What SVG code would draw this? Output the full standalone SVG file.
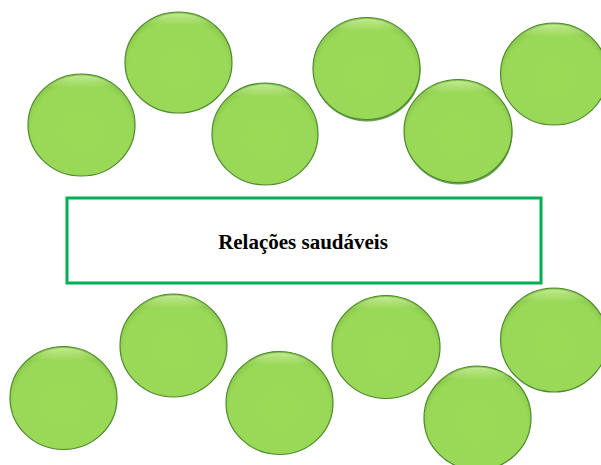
<svg xmlns="http://www.w3.org/2000/svg" width="601" height="465" viewBox="0 0 601 465">
<defs>
<radialGradient id="g" cx="50%" cy="55%" r="55%">
<stop offset="0" stop-color="#9bdb58"/>
<stop offset="0.85" stop-color="#9ad857"/>
<stop offset="1" stop-color="#86c44a"/>
</radialGradient>
<linearGradient id="hl" x1="0" y1="0" x2="0" y2="1">
<stop offset="0" stop-color="#c8ee9a" stop-opacity="0.9"/>
<stop offset="0.12" stop-color="#c8ee9a" stop-opacity="0"/>
</linearGradient>
</defs>
<style>
.c{fill:url(#g);stroke:#4e8a2c;stroke-width:1.2}
.h{fill:url(#hl);stroke:none}
.s{fill:#3f8a2a;opacity:0.8}
.box{fill:#fff;stroke:#00b050;stroke-width:3}
.t{font-family:"Liberation Serif","Times New Roman",serif;font-weight:bold;font-size:21px;fill:#000}
</style>
<rect width="601" height="465" fill="#fff"/>
<g id="c1"><ellipse class="c" cx="81.5" cy="125" rx="53.5" ry="51"/><ellipse class="h" cx="81.5" cy="125" rx="52" ry="49.5"/></g>
<g id="c2"><ellipse class="c" cx="178.5" cy="62.5" rx="53.5" ry="50.5"/><ellipse class="h" cx="178.5" cy="62.5" rx="52" ry="49"/></g>
<g id="c3"><ellipse class="c" cx="265" cy="134" rx="53" ry="51"/><ellipse class="h" cx="265" cy="134" rx="51.5" ry="49.5"/></g>
<g id="c4"><ellipse class="s" cx="367" cy="70.5" rx="53.5" ry="51"/><ellipse class="c" cx="366.5" cy="68.5" rx="53.5" ry="51"/><ellipse class="h" cx="366.5" cy="68.5" rx="52" ry="49.5"/></g>
<g id="c5"><ellipse class="s" cx="458.5" cy="133" rx="54" ry="51.5"/><ellipse class="c" cx="458" cy="131" rx="54" ry="51.5"/><ellipse class="h" cx="458" cy="131" rx="52.5" ry="50"/></g>
<g id="c6"><ellipse class="c" cx="554" cy="74" rx="53.5" ry="51"/><ellipse class="h" cx="554" cy="74" rx="52" ry="49.5"/></g>
<g id="box"><rect class="box" x="67" y="198" width="474" height="85"/><text class="t" x="303" y="249" text-anchor="middle">Relações saudáveis</text></g>
<g id="b1"><ellipse class="c" cx="63.5" cy="398" rx="53.5" ry="51.5"/><ellipse class="h" cx="63.5" cy="398" rx="52" ry="50"/></g>
<g id="b2"><ellipse class="c" cx="173.5" cy="345.5" rx="53.5" ry="51.5"/><ellipse class="h" cx="173.5" cy="345.5" rx="52" ry="50"/></g>
<g id="b3"><ellipse class="c" cx="279.5" cy="403" rx="53.5" ry="51.5"/><ellipse class="h" cx="279.5" cy="403" rx="52" ry="50"/></g>
<g id="b4"><ellipse class="c" cx="386" cy="347" rx="54" ry="51.5"/><ellipse class="h" cx="386" cy="347" rx="52.5" ry="50"/></g>
<g id="b5"><ellipse class="c" cx="477.5" cy="418" rx="53.5" ry="52"/><ellipse class="h" cx="477.5" cy="418" rx="52" ry="50.5"/></g>
<g id="b6"><ellipse class="c" cx="554" cy="340" rx="53.5" ry="52"/><ellipse class="h" cx="554" cy="340" rx="52" ry="50.5"/></g>
<g id="connectors"></g>
</svg>
